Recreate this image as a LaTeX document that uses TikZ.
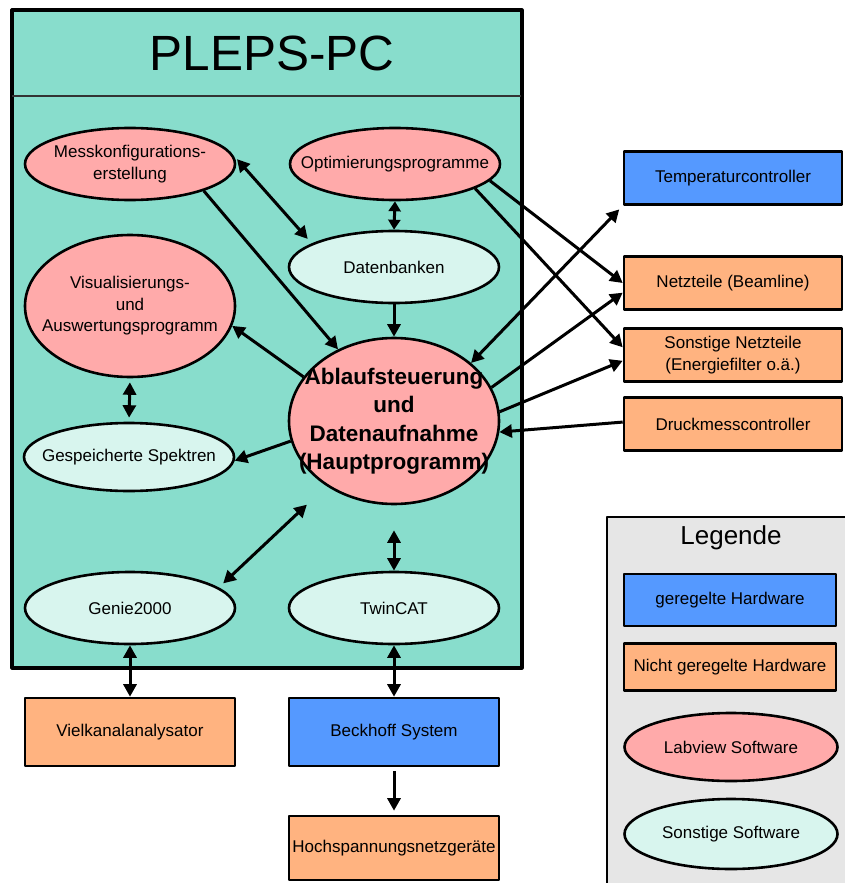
\documentclass[tikz,border=0pt]{standalone}
\usepackage{fontspec}
\setmainfont{Liberation Sans}
\usetikzlibrary{arrows.meta,shapes.geometric}
\definecolor{cPC}{HTML}{88DDCC}
\definecolor{cLab}{HTML}{FFAAAA}
\definecolor{cOth}{HTML}{D8F5EE}
\definecolor{cReg}{HTML}{5599FF}
\definecolor{cNreg}{HTML}{FFB380}
\definecolor{cLeg}{HTML}{E6E6E6}

\begin{document}
\begin{tikzpicture}[x=1pt,y=-1pt,line join=round,
   >={Triangle[length=12.5pt,width=13pt]},
   arr/.style={line width=3pt},
   soft/.style={ellipse,draw,line width=2.6pt,minimum width=210pt,minimum height=72pt,
     inner sep=-40pt,align=center,font=\fontsize{17}{21.5}\selectfont},
   lab/.style={soft,fill=cLab},
   oth/.style={soft,fill=cOth},
   hw/.style={rectangle,draw,line width=2.6pt,minimum width=218pt,minimum height=53pt,
     inner sep=0pt,align=center,font=\fontsize{17}{22.5}\selectfont},
   reg/.style={hw,fill=cReg},
   nreg/.style={hw,fill=cNreg}]
  \useasboundingbox (0,0) rectangle (845,883);
  % PLEPS-PC frame
  \draw[line width=3.2pt,fill=cPC] (12,10) rectangle (522,668);
  \draw[line width=1.2pt,black!80] (12,96) -- (521,96);
  \node[font=\fontsize{49.5}{55}\selectfont] (title) at (272,53) {PLEPS-PC};
  % legend frame
  \draw[line width=2.6pt,fill=cLeg] (607,517) rectangle (855,895);
  \node[font=\fontsize{26}{30}\selectfont] (legtitle) at (731,538) {Legende};
  % software inside the PC
  \node[lab] (mess) at (130,164) {Messkonfigurations-\\erstellung};
  \node[lab] (opt) at (395,164) {Optimierungsprogramme};
  \node[oth] (dat) at (394,267) {Datenbanken};
  \node[lab,minimum height=142pt] (vis) at (130,306) {Visualisierungs-\\und\\Auswertungsprogramm};
  \node[lab,minimum height=166pt,font=\fontsize{22.5}{28.5}\selectfont\bfseries]
       (abl) at (394,421) {Ablaufsteuerung\\und\\Datenaufnahme\\(Hauptprogramm)};
  \node[oth,minimum height=68pt] (gesp) at (129,457) {Gespeicherte Spektren};
  \node[oth] (genie) at (130,608) {Genie2000};
  \node[oth] (twin) at (394,608) {TwinCAT};
  % hardware
  \node[nreg,minimum width=210pt,minimum height=68pt] (viel) at (130,732) {Vielkanalanalysator};
  \node[reg,minimum width=210pt,minimum height=68pt] (beck) at (394,732) {Beckhoff System};
  \node[nreg,minimum width=210pt,minimum height=64pt] (hv) at (394,848) {Hochspannungsnetzgeräte};
  \node[reg] (temp) at (733,178) {Temperaturcontroller};
  \node[nreg] (netz) at (733,283) {Netzteile (Beamline)};
  \node[nreg] (sonst) at (733,355) {Sonstige Netzteile\\(Energiefilter o.ä.)};
  \node[nreg] (druck) at (733,424) {Druckmesscontroller};
  % legend entries
  \node[reg,minimum width=212pt,minimum height=52pt] (legreg) at (730,600) {geregelte Hardware};
  \node[nreg,minimum width=212pt,minimum height=47pt] (legnreg) at (730,667) {Nicht geregelte Hardware};
  \node[lab,minimum width=213pt,minimum height=68pt] (leglab) at (731,747) {Labview Software};
  \node[oth,minimum width=213pt,minimum height=70pt] (legoth) at (731,834) {Sonstige Software};
  % connections inside the PC
  \draw[arr,->] (mess.-20) -- (abl.128);
  \draw[arr,<->,shorten <=10pt,shorten >=6pt] (mess.7) -- (dat.164);
  \draw[arr,<->,>={Triangle[length=10pt,width=12pt]}] (opt.south) -- (dat.north);
  \draw[arr,->] (dat.south) -- (abl.north);
  \draw[arr,->] (abl.154) -- (vis.-11);
  \draw[arr,<->,shorten <=4pt,shorten >=4pt] (vis.south) -- (gesp.north);
  \draw[arr,->] (abl.191) -- (gesp.-2);
  \draw[arr,<->,shorten <=27pt,shorten >=6pt] (abl.224) -- (genie.13);
  \draw[arr,<->,shorten <=25pt] (abl.south) -- (twin.north);
  % connections to the hardware
  \draw[arr,<->] (genie.south) -- (viel.north);
  \draw[arr,<->] (twin.south) -- (beck.north);
  \draw[arr,->,shorten <=4pt,shorten >=4pt] (beck.south) -- (hv.north);
  \draw[arr,->] (opt.-10) -- (netz.west);
  \draw[arr,->] (opt.-17) -- (sonst.176);
  \draw[arr,<->,shorten >=5pt] (abl.37) -- (temp.south west);
  \draw[arr,->] (abl.19) -- (netz.185);
  \draw[arr,->] (abl.5) -- (sonst.183);
  \draw[arr,->] (druck.179) -- (abl.-6);
\end{tikzpicture}
\end{document}
